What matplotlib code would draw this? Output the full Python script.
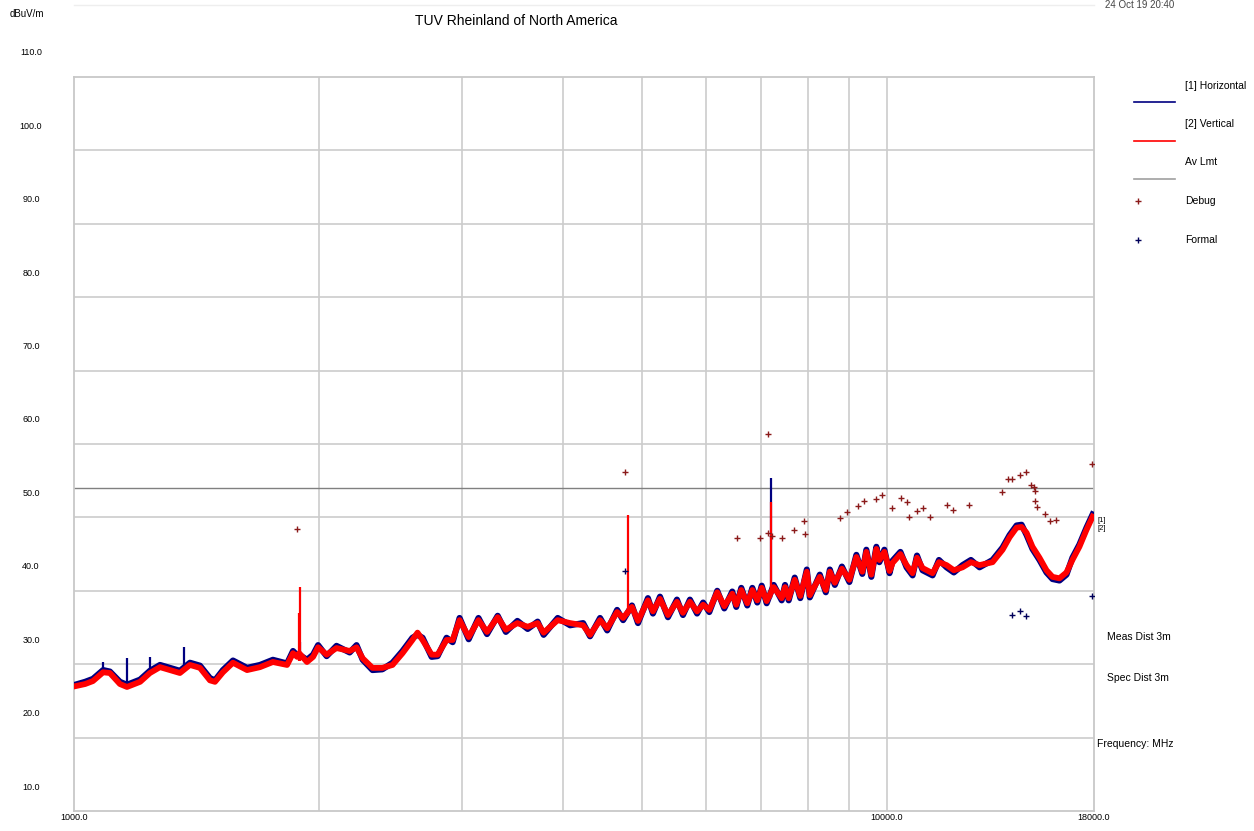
import numpy as np
import matplotlib.pyplot as plt
import matplotlib.transforms as mtransforms
from matplotlib.ticker import NullLocator

plt.rcParams['font.family'] = ['Liberation Sans', 'DejaVu Sans']

# trace data (MHz, dBuV/m)
freq = [1003, 1032, 1055, 1086, 1107, 1139, 1162, 1206, 1240, 1276,
        1313, 1350, 1389, 1429, 1470, 1491, 1525, 1569, 1633, 1694,
        1757, 1829, 1860, 1882, 1893, 1935, 1969,
        1997, 2046, 2104, 2184, 2227, 2266, 2330, 2396, 2466, 2537,
        2609, 2647, 2685, 2755, 2802, 2874, 2924, 2982, 3060, 3146,
        3223, 3322, 3400, 3513, 3617, 3720, 3784, 3938, 4079, 4232,
        4316, 4440, 4531, 4660, 4740, 4860, 4944,
        5085, 5158, 5262, 5382, 5521, 5616, 5728, 5845, 5946, 6051,
        6189, 6314, 6458, 6532, 6625, 6739, 6836, 6933, 7020, 7119,
        7262, 7429, 7500, 7578, 7708, 7831, 7977,
        8045, 8276, 8418, 8515, 8636, 8811, 9000, 9180, 9336, 9443,
        9578, 9715, 9798, 9938, 10085, 10171, 10400, 10583, 10765, 10900,
        11073, 11392, 11600, 11853, 12100, 12403, 12700, 13014, 13504, 13893,
        14172, 14454, 14660, 14870, 15120, 15424, 15733, 16003, 16322, 16649,
        16931, 17270, 17620, 17928]

vert = [27.0, 27.3, 27.7, 28.9, 28.8, 27.3, 26.9, 27.6, 28.8, 29.6,
        29.2, 28.8, 29.9, 29.5, 27.8, 27.6, 28.9, 30.2, 29.2, 29.6,
        30.3, 29.9, 31.5, 31.0, 31.5, 30.3, 31.0,
        32.3, 31.3, 32.2, 31.8, 32.3, 30.8, 29.5, 29.5, 29.9, 31.5,
        33.3, 34.3, 33.3, 31.3, 31.3, 33.3, 33.3, 36.0, 33.7, 36.0,
        34.4, 36.4, 34.7, 35.6, 35.1, 35.6, 34.3, 36.0, 35.6, 35.3,
        34.0, 36.0, 34.9, 37.1, 36.3, 37.8, 35.9,
        38.7, 37.2, 38.9, 36.7, 38.5, 37.0, 38.5, 37.2, 38.1, 37.4,
        39.8, 37.9, 39.6, 38.1, 40.1, 38.3, 40.1, 38.7, 40.4, 38.6,
        40.5, 39.0, 40.5, 39.0, 41.5, 39.3, 42.6,
        39.4, 41.9, 40.1, 42.6, 41.1, 43.0, 41.5, 44.6, 42.6, 45.3,
        42.2, 45.7, 44.2, 45.3, 42.7, 43.8, 45.0, 43.5, 42.4, 44.5,
        43.1, 42.4, 43.9, 43.5, 42.8, 43.2, 43.9, 43.5, 43.9, 45.6,
        47.3, 48.6, 48.7, 47.9, 46.0, 44.5, 42.8, 41.9, 41.7, 42.5,
        44.2, 46.0, 48.3, 50.1]

horiz = [27.2, 27.6, 28.0, 29.2, 29.0, 27.6, 27.2, 27.9, 29.1, 29.9,
         29.5, 29.1, 30.2, 29.8, 28.1, 27.8, 29.2, 30.5, 29.5, 29.9,
         30.6, 30.1, 31.8, 31.2, 31.3, 30.6, 31.3,
         32.6, 31.1, 32.5, 31.6, 32.6, 30.6, 29.2, 29.3, 30.2, 31.8,
         33.6, 34.0, 33.6, 31.0, 31.1, 33.6, 33.0, 36.3, 33.4, 36.3,
         34.1, 36.6, 34.4, 35.9, 34.8, 35.8, 34.0, 36.3, 35.3, 35.6,
         33.8, 36.3, 34.6, 37.4, 36.0, 38.0, 35.6,
         39.0, 36.9, 39.2, 36.4, 38.8, 36.7, 38.8, 36.9, 38.4, 37.1,
         40.0, 37.6, 39.9, 37.8, 40.4, 38.0, 40.4, 38.4, 40.7, 38.3,
         40.8, 38.7, 40.8, 38.7, 41.8, 39.0, 42.9,
         39.1, 42.2, 39.8, 42.9, 40.8, 43.3, 41.2, 44.9, 42.3, 45.6,
         41.9, 46.0, 43.9, 45.6, 42.4, 44.1, 45.3, 43.2, 42.1, 44.8,
         42.8, 42.1, 44.2, 43.2, 42.5, 43.5, 44.2, 43.2, 44.2, 45.9,
         47.6, 48.9, 49.0, 47.6, 45.7, 44.2, 42.5, 41.6, 41.4, 42.2,
         44.5, 46.3, 48.6, 50.4]

# narrow spikes (freq, base, top)
v_spike_freq = [1890, 1897, 4806, 7200]
v_spike_base = [30.5, 30.5, 36.5, 39.0]
v_spike_top = [37.0, 40.5, 50.3, 52.1]
h_spike_freq = [1086, 1162, 1240, 1365, 1897, 7200]
h_spike_base = [28.5, 27.5, 28.5, 29.0, 31.0, 39.0]
h_spike_top = [30.3, 30.8, 31.0, 32.3, 33.0, 55.4]

lim_freq = [1000, 18000]
lim_level = [54.0, 54.0]

debug_freq = [1882, 4765, 7140, 6551, 6990, 7140, 7220, 7429, 7687, 7913,
              7935, 8761, 8937, 9232, 9390, 9692, 9877, 10143, 10405, 10583,
              10643, 10887, 11073, 11295, 11853, 12058, 12615, 13854, 14093, 14260,
              14576, 14829, 15040, 15180, 15250, 15250, 15320, 15647, 15912, 16143,
              17880]
debug_level = [48.4, 56.2, 61.4, 47.2, 47.2, 47.9, 47.5, 47.2, 48.3, 49.5,
               47.7, 49.9, 50.7, 51.6, 52.3, 52.5, 53.1, 51.3, 52.6, 52.1,
               50.1, 50.9, 51.3, 50.1, 51.7, 51.0, 51.7, 53.5, 55.2, 55.2,
               55.8, 56.2, 54.4, 54.1, 53.6, 52.2, 51.4, 50.5, 49.5, 49.6,
               57.3]

formal_freq = [4765, 14260, 14576, 14829, 17880]
formal_level = [42.7, 36.7, 37.2, 36.6, 39.3]

grid_freq = [2000, 3000, 4000, 5000, 6000, 7000, 8000, 9000, 10000]
grid_level = [20, 30, 40, 50, 60, 70, 80, 90, 100]
ytick_vals = [10, 20, 30, 40, 50, 60, 70, 80, 90, 100, 110]
xtick_vals = [1000, 10000, 18000]

W, H = 1254, 831
fig = plt.figure(figsize=(W / 100, H / 100), dpi=100)
ax = fig.add_axes([74 / W, 1 - 811 / H, (1094 - 74) / W, (811 - 77) / H])
ax.set_xscale('log')
ax.set_xlim(1000, 18000)
ax.set_ylim(10, 110)
ax.xaxis.set_major_locator(NullLocator())
ax.xaxis.set_minor_locator(NullLocator())
ax.yaxis.set_major_locator(NullLocator())
for sp in ax.spines.values():
    sp.set_color('#c8c8c8')
    sp.set_linewidth(1.3)

gridc = '#cccccc'
for g in grid_freq:
    ax.axvline(g, color=gridc, lw=1.2, zorder=1)
for g in grid_level:
    ax.axhline(g, color=gridc, lw=1.2, zorder=1)

ax.plot(lim_freq, lim_level, color='#808080', lw=1.0, zorder=2)
ax.plot(freq, horiz, color='#000080', lw=4.4, zorder=3)
ax.vlines(h_spike_freq, h_spike_base, h_spike_top, color='#000080', lw=1.6, zorder=3)
ax.plot(freq, vert, color='#ff0000', lw=4.2, zorder=4)
ax.vlines(v_spike_freq, v_spike_base, v_spike_top, color='#ff0000', lw=1.6, zorder=4)
ax.plot(debug_freq, debug_level, ls='none', marker='+', ms=5, mew=1.0,
        color='#8b1a1a', zorder=5)
ax.plot(formal_freq, formal_level, ls='none', marker='+', ms=5, mew=1.0,
        color='#00005a', zorder=5)

# y labels sit above their gridlines
ylab_tr = mtransforms.blended_transform_factory(fig.transFigure, ax.transData) + \
    mtransforms.ScaledTranslation(0, 24 / 100, fig.dpi_scale_trans)
for v in ytick_vals:
    ax.text(31 / W, v, '%.1f' % v, transform=ylab_tr, ha='center', va='center',
            fontsize=6.5, clip_on=False)

xlab_tr = mtransforms.blended_transform_factory(ax.transData, ax.transAxes) + \
    mtransforms.ScaledTranslation(0, -7 / 100, fig.dpi_scale_trans)
for f in xtick_vals:
    ax.text(f, 0, '%.1f' % f, transform=xlab_tr, ha='center', va='center',
            fontsize=6.5, clip_on=False)

fig.text(27 / W, 1 - 14 / H, 'dBuV/m', ha='center', va='center', fontsize=7)
fig.text(516 / W, 1 - 21 / H, 'TUV Rheinland of North America', ha='center',
         va='center', fontsize=10)
fig.text(1140 / W, 1 - 5 / H, '24 Oct 19 20:40', ha='center', va='center',
         fontsize=7, color='#444444')
fig.add_artist(plt.Line2D([74 / W, 1094 / W], [1 - 5 / H, 1 - 5 / H],
                          color='#eeeeee', lw=1))

# legend on the right
leg_items = [('[1] Horizontal', '#000080', 86, 102),
             ('[2] Vertical', '#ff0000', 124, 141),
             ('Av Lmt', '#a0a0a0', 162, 179)]
for lab, col, ty, ly in leg_items:
    fig.text(1185 / W, 1 - ty / H, lab, ha='left', va='center', fontsize=7.5)
    fig.add_artist(plt.Line2D([1134 / W, 1175 / W], [1 - ly / H, 1 - ly / H],
                              color=col, lw=1.2))
for lab, col, ty in [('Debug', '#8b1a1a', 201), ('Formal', '#00005a', 240)]:
    fig.text(1185 / W, 1 - ty / H, lab, ha='left', va='center', fontsize=7.5)
    fig.add_artist(plt.Line2D([1138 / W], [1 - ty / H], ls='none', marker='+',
                              ms=5, mew=1.0, color=col))

fig.text(1107 / W, 1 - 637 / H, 'Meas Dist 3m', ha='left', va='center', fontsize=7.5)
fig.text(1107 / W, 1 - 678 / H, 'Spec Dist 3m', ha='left', va='center', fontsize=7.5)
fig.text(1097 / W, 1 - 744 / H, 'Frequency: MHz', ha='left', va='center', fontsize=7.5)

fig.text(1097 / W, 1 - 521 / H, '[1]', ha='left', va='center', fontsize=5.5)
fig.text(1097 / W, 1 - 528 / H, '[2]', ha='left', va='center', fontsize=5.5)

fig.savefig('out.png', dpi=100, facecolor='white')
